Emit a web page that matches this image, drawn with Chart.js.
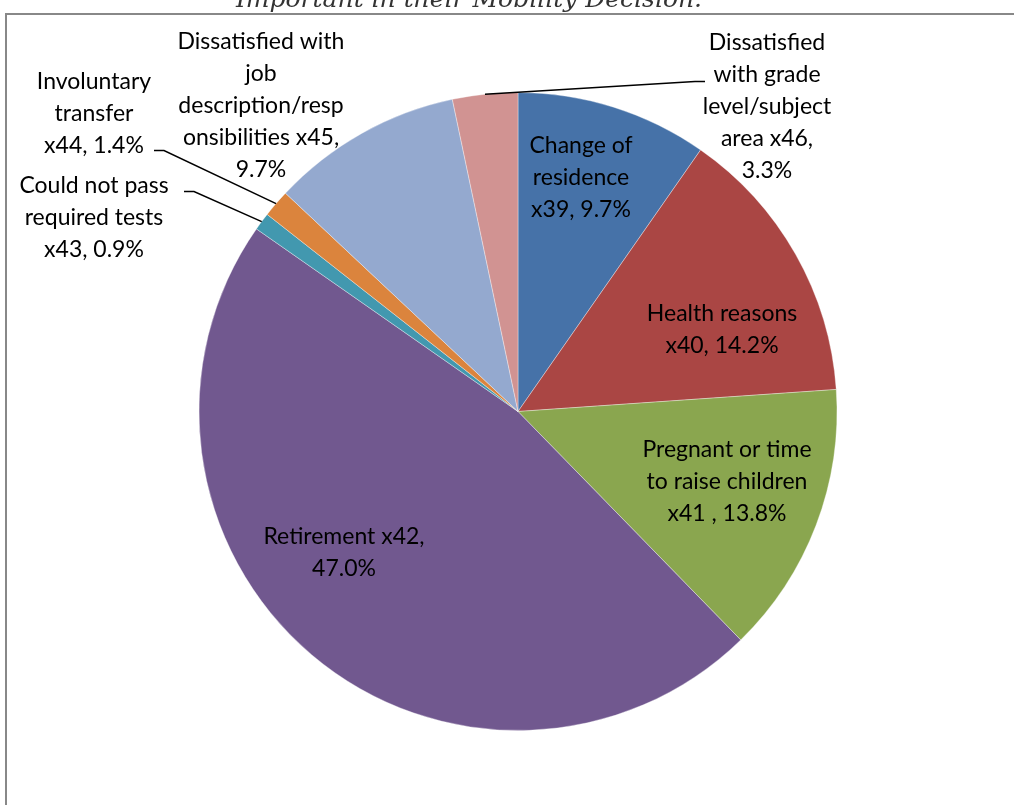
<!DOCTYPE html>
<html>
<head>
<meta charset="utf-8">
<title>Mobility decision pie</title>
<script src="https://cdn.jsdelivr.net/npm/chart.js@4"></script>
<style>
    html, body { margin: 0; padding: 0; background: #fff; }
    #wrap { width: 1014px; height: 805px; position: relative; }
</style>
</head>
<body>
<div id="wrap"><canvas id="pieChart" width="1014" height="805"></canvas></div>
<script>
const reasons = [
    'Change of residence',
    'Health reasons',
    'Pregnant or time to raise children',
    'Retirement',
    'Could not pass required tests',
    'Involuntary transfer',
    'Dissatisfied with job description/responsibilities',
    'Dissatisfied with grade level/subject area'
];
const items = ['x39', 'x40', 'x41', 'x42', 'x43', 'x44', 'x45', 'x46'];
const shares = [9.7, 14.2, 13.8, 47.0, 0.9, 1.4, 9.7, 3.3];

// label text as Excel wrapped it
const labelLines = [
    ['Change of', 'residence', 'x39, 9.7%'],
    ['Health reasons', 'x40, 14.2%'],
    ['Pregnant or time', 'to raise children', 'x41 , 13.8%'],
    ['Retirement x42,', '47.0%'],
    ['Could not pass', 'required tests', 'x43, 0.9%'],
    ['Involuntary', 'transfer', 'x44, 1.4%'],
    ['Dissatisfied with', 'job', 'description/resp', 'onsibilities x45,', '9.7%'],
    ['Dissatisfied', 'with grade', 'level/subject', 'area x46,', '3.3%']
];

const sliceColors = ['#4672A8', '#AA4644', '#8AA64F', '#71588F', '#4298AF', '#DB843D', '#94A9CF', '#D19392'];

// label block centre, offset from the pie centre (px); leader = [elbow, end] offsets or null
const labelLayout = [
    { dx: 63, dy: -234, leader: null },
    { dx: 204, dy: -82, leader: null },
    { dx: 209, dy: 70, leader: null },
    { dx: -174, dy: 141, leader: null },
    { dx: -424, dy: -194, leader: [[-324, -220], [-334, -220]] },
    { dx: -424, dy: -298, leader: [[-354, -261], [-364, -261]] },
    { dx: -257, dy: -306, leader: null },
    { dx: 249, dy: -305, leader: [[177, -330], [187, -330]] }
];

const LINE_H = 32;

const frameAndLabels = {
    id: 'frameAndLabels',
    beforeDraw(chart) {
        const ctx = chart.ctx;
        ctx.save();
        ctx.fillStyle = '#fff';
        ctx.fillRect(0, 0, chart.width, chart.height);
        // chart frame (only left and top edges are inside the picture)
        ctx.strokeStyle = '#888888';
        ctx.lineWidth = 2;
        ctx.beginPath();
        ctx.moveTo(6, chart.height);
        ctx.lineTo(6, 14);
        ctx.lineTo(chart.width, 14);
        ctx.stroke();
        // document caption, cut off at the top
        ctx.fillStyle = '#333';
        ctx.font = 'italic 25px "DejaVu Serif"';
        ctx.textAlign = 'center';
        ctx.textBaseline = 'alphabetic';
        ctx.fillText('Important in their Mobility Decision.', 469, 7);
        ctx.restore();
    },
    afterDatasetsDraw(chart) {
        const ctx = chart.ctx;
        const arcs = chart.getDatasetMeta(0).data;
        ctx.save();
        ctx.fillStyle = '#000';
        ctx.font = '23px Lato';
        ctx.textAlign = 'center';
        ctx.textBaseline = 'middle';
        arcs.forEach((arc, i) => {
            const cx = arc.x, cy = arc.y;
            const lay = labelLayout[i];
            if (lay.leader) {
                const mid = (arc.startAngle + arc.endAngle) / 2;
                ctx.strokeStyle = '#000';
                ctx.lineWidth = 1.5;
                ctx.beginPath();
                ctx.moveTo(cx + Math.cos(mid) * arc.outerRadius, cy + Math.sin(mid) * arc.outerRadius);
                ctx.lineTo(cx + lay.leader[0][0], cy + lay.leader[0][1]);
                ctx.lineTo(cx + lay.leader[1][0], cy + lay.leader[1][1]);
                ctx.stroke();
            }
            const lines = labelLines[i];
            const top = cy + lay.dy - (lines.length - 1) * LINE_H / 2;
            lines.forEach((txt, k) => {
                ctx.fillText(txt, cx + lay.dx, top + k * LINE_H);
            });
        });
        ctx.restore();
    }
};

new Chart(document.getElementById('pieChart').getContext('2d'), {
    type: 'pie',
    data: {
        labels: reasons.map((r, i) => r + ' ' + items[i]),
        datasets: [{
            data: shares,
            backgroundColor: sliceColors,
            borderColor: 'rgba(255, 255, 255, 0.35)',
            borderWidth: 1
        }]
    },
    options: {
        responsive: false,
        animation: false,
        layout: { padding: { left: 198, right: 176, top: 92, bottom: 74 } },
        plugins: {
            legend: { display: false },
            tooltip: { enabled: false }
        }
    },
    plugins: [frameAndLabels]
});
</script>
</body>
</html>
